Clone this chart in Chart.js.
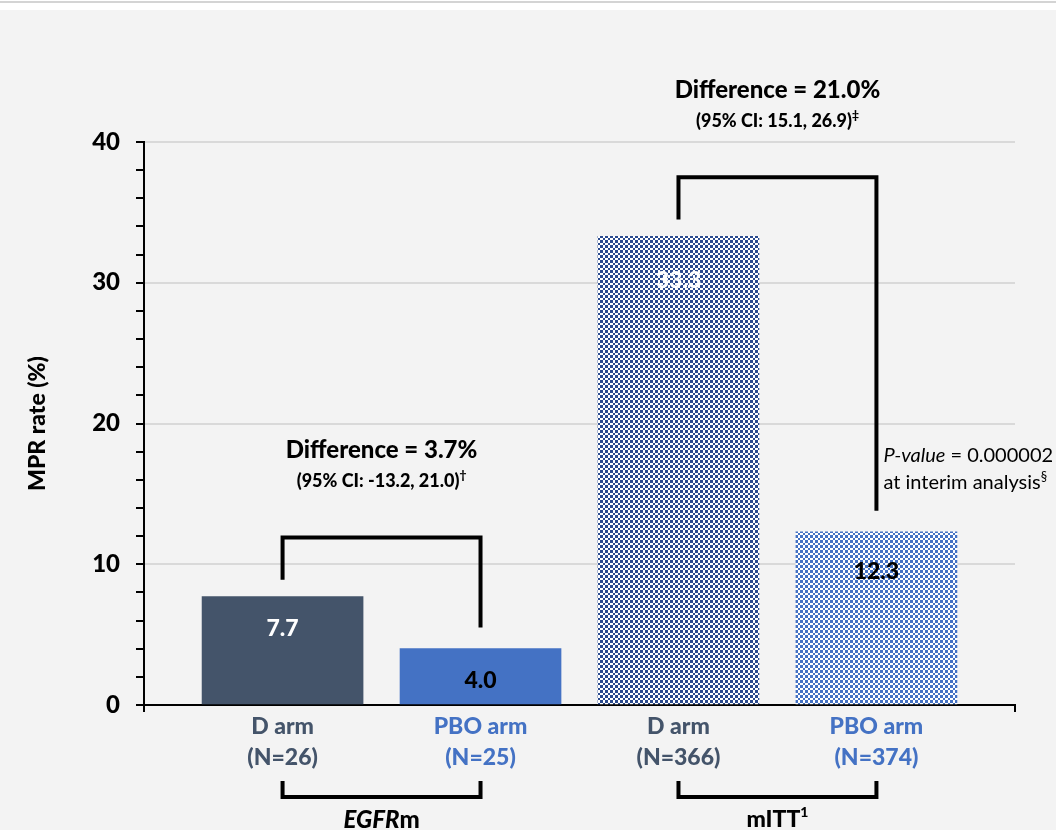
<!DOCTYPE html>
<html>
<head>
<meta charset="utf-8">
<script src="https://cdn.jsdelivr.net/npm/chart.js@4.4.1/dist/chart.umd.min.js"></script>
<style>
  html, body { margin: 0; padding: 0; background: #ffffff; }
  #topline { position: absolute; left: 0; top: 1px; width: 1056px; height: 2px; background: #d4d4d4; }
  #wrap { position: absolute; left: 0; top: 10px; width: 1056px; height: 820px; background: #f3f3f3; }
</style>
</head>
<body>
<div id="topline"></div>
<div id="wrap"><canvas id="chart" width="1056" height="820"></canvas></div>
<script>
// --- data ---
const armLabels = ['D arm', 'PBO arm', 'D arm', 'PBO arm'];
const nLabels = ['(N=26)', '(N=25)', '(N=366)', '(N=374)'];
const mprRates = [7.7, 4.0, 33.3, 12.3];
const valueLabels = ['7.7', '4.0', '33.3', '12.3'];
const diffLabels = ['Difference = 3.7%', 'Difference = 21.0%'];
const ciLabels = ['(95% CI: -13.2, 21.0)', '(95% CI: 15.1, 26.9)'];
const ciMarks = ['\u2020', '\u2021'];
const yTicks = [0, 10, 20, 30, 40];

// --- styles ---
const FONT = 'Lato, "Open Sans", sans-serif';
const BOLD = '900 ';
const armColors = ['#44546A', '#4472C4', '#44546A', '#4472C4'];
const labelColors = ['#ffffff', '#000000', '#ffffff', '#000000'];
const labelOffsets = [32, 32, 44, 40];

const canvas = document.getElementById('chart');
const ctx = canvas.getContext('2d');

function checker(c1, c2) {
    const t = document.createElement('canvas');
    t.width = 10; t.height = 10;
    const g = t.getContext('2d');
    g.fillStyle = c2;
    g.fillRect(0, 0, 10, 10);
    g.fillStyle = c1;
    const e = [0, 3, 5, 8, 10];
    for (let i = 0; i < 4; i++) {
        for (let j = 0; j < 4; j++) {
            if ((i + j) % 2 === 0) g.fillRect(e[i], e[j], e[i + 1] - e[i], e[j + 1] - e[j]);
        }
    }
    return ctx.createPattern(t, 'repeat');
}

const barFills = ['#44546A', '#4472C4', checker('#2A4A8E', '#ffffff'), checker('#4472C4', '#ffffff')];

// draw a list of text runs centred (or left-aligned) on x
function drawRuns(c, runs, x, y, align) {
    let total = 0;
    runs.forEach(r => { c.font = r.font; r.w = c.measureText(r.text).width; total += r.w; });
    let cx = align === 'left' ? x : x - total / 2;
    c.textAlign = 'left';
    c.textBaseline = 'middle';
    runs.forEach(r => {
        c.font = r.font;
        c.fillStyle = r.color || '#000';
        c.fillText(r.text, cx, y + (r.dy || 0));
        cx += r.w;
    });
}

const annotations = {
    id: 'annotations',
    afterDatasetsDraw(chart) {
        const c = chart.ctx;
        const xs = chart.scales.x;
        const ys = chart.scales.y;
        const area = chart.chartArea;
        const meta = chart.getDatasetMeta(0);

        c.save();
        // value labels inside the bars
        meta.data.forEach((bar, i) => {
            c.font = BOLD + '23px ' + FONT;
            c.fillStyle = labelColors[i];
            c.textAlign = 'center';
            c.textBaseline = 'middle';
            c.fillText(valueLabels[i], bar.x, bar.y + labelOffsets[i]);
        });

        // end ticks of the x axis
        c.strokeStyle = '#000';
        c.lineWidth = 2;
        c.beginPath();
        c.moveTo(area.left, area.bottom); c.lineTo(area.left, area.bottom + 7);
        c.moveTo(area.right, area.bottom); c.lineTo(area.right, area.bottom + 7);
        c.stroke();

        // difference brackets between arms
        c.lineWidth = 4;
        c.lineJoin = 'miter';
        for (let g = 0; g < 2; g++) {
            const a = g * 2, b = g * 2 + 1;
            const xa = xs.getPixelForValue(a);
            const xb = xs.getPixelForValue(b);
            const ya = ys.getPixelForValue(mprRates[a] + 1.2);
            const yb = ys.getPixelForValue(mprRates[b] + 1.5);
            const yt = ys.getPixelForValue(Math.max(mprRates[a], mprRates[b]) + 4.2);
            c.beginPath();
            c.moveTo(xa, ya); c.lineTo(xa, yt); c.lineTo(xb, yt); c.lineTo(xb, yb);
            c.stroke();

            const mid = (xa + xb) / 2;
            drawRuns(c, [{ text: diffLabels[g], font: BOLD + '24px ' + FONT }], mid, yt - 87);
            drawRuns(c, [
                { text: ciLabels[g], font: BOLD + '18px ' + FONT },
                { text: ciMarks[g], font: BOLD + '12px ' + FONT, dy: -6 }
            ], mid, yt - 56);

            // group brackets under the axis
            const yb2 = area.bottom + 92;
            c.beginPath();
            c.moveTo(xa, area.bottom + 76); c.lineTo(xa, yb2); c.lineTo(xb, yb2); c.lineTo(xb, area.bottom + 76);
            c.stroke();
        }

        // group names
        const g0 = (xs.getPixelForValue(0) + xs.getPixelForValue(1)) / 2;
        const g1 = (xs.getPixelForValue(2) + xs.getPixelForValue(3)) / 2;
        const yName = area.bottom + 115;
        drawRuns(c, [
            { text: 'EGFR', font: 'italic ' + BOLD + '24px ' + FONT },
            { text: 'm', font: BOLD + '24px ' + FONT }
        ], g0, yName);
        drawRuns(c, [
            { text: 'mITT', font: BOLD + '23px ' + FONT },
            { text: '1', font: BOLD + '14px ' + FONT, dy: -8 }
        ], g1, yName);

        // p-value note
        const px = xs.getPixelForValue(3) + 7;
        const py = ys.getPixelForValue(mprRates[3] + 1.5);
        drawRuns(c, [
            { text: 'P-value', font: 'italic 20px ' + FONT },
            { text: ' = 0.000002', font: '20px ' + FONT }
        ], px, py - 55, 'left');
        drawRuns(c, [
            { text: 'at interim analysis', font: '20px ' + FONT },
            { text: '\u00a7', font: '13px ' + FONT, dy: -6 }
        ], px, py - 28, 'left');
        c.restore();
    }
};

new Chart(canvas, {
    type: 'bar',
    data: {
        datasets: [{
            data: mprRates.map((v, i) => ({ x: i, y: v })),
            backgroundColor: barFills,
            borderWidth: 0,
            barThickness: 161
        }]
    },
    options: {
        responsive: false,
        animation: false,
        events: [],
        layout: { padding: { top: 132, right: 41, bottom: 0, left: 0 } },
        plugins: { legend: { display: false }, tooltip: { enabled: false } },
        scales: {
            x: {
                type: 'linear',
                offset: false,
                min: -0.7,
                max: 3.7,
                afterFit: s => { s.height = 125; },
                afterBuildTicks: s => { s.ticks = armLabels.map((_, i) => ({ value: i })); },
                grid: { display: false },
                border: { display: true, color: '#000', width: 2 },
                ticks: {
                    autoSkip: false,
                    maxRotation: 0,
                    padding: -2,
                    font: { family: FONT, size: 23, weight: '900', lineHeight: 1.35 },
                    color: c => armColors[c.index],
                    callback: (v, i) => [armLabels[i], nLabels[i]]
                }
            },
            y: {
                min: 0,
                max: 40,
                afterFit: s => { s.width = 144; },
                ticks: {
                    stepSize: 2,
                    autoSkip: false,
                    padding: 16,
                    color: '#000',
                    font: { family: FONT, size: 24, weight: '900' },
                    callback: v => yTicks.includes(v) ? v : ''
                },
                grid: {
                    color: c => (c.tick && c.tick.value > 0 && yTicks.includes(c.tick.value)) ? '#d9d9d9' : 'rgba(0,0,0,0)',
                    lineWidth: 2,
                    tickLength: 8,
                    tickColor: '#000',
                    tickWidth: 2
                },
                border: { display: true, color: '#000', width: 2 },
                title: {
                    display: true,
                    text: 'MPR rate (%)',
                    color: '#000',
                    font: { family: FONT, size: 23, weight: '900' },
                    padding: { top: 24, bottom: 0 }
                }
            }
        }
    },
    plugins: [annotations]
});
</script>
</body>
</html>
